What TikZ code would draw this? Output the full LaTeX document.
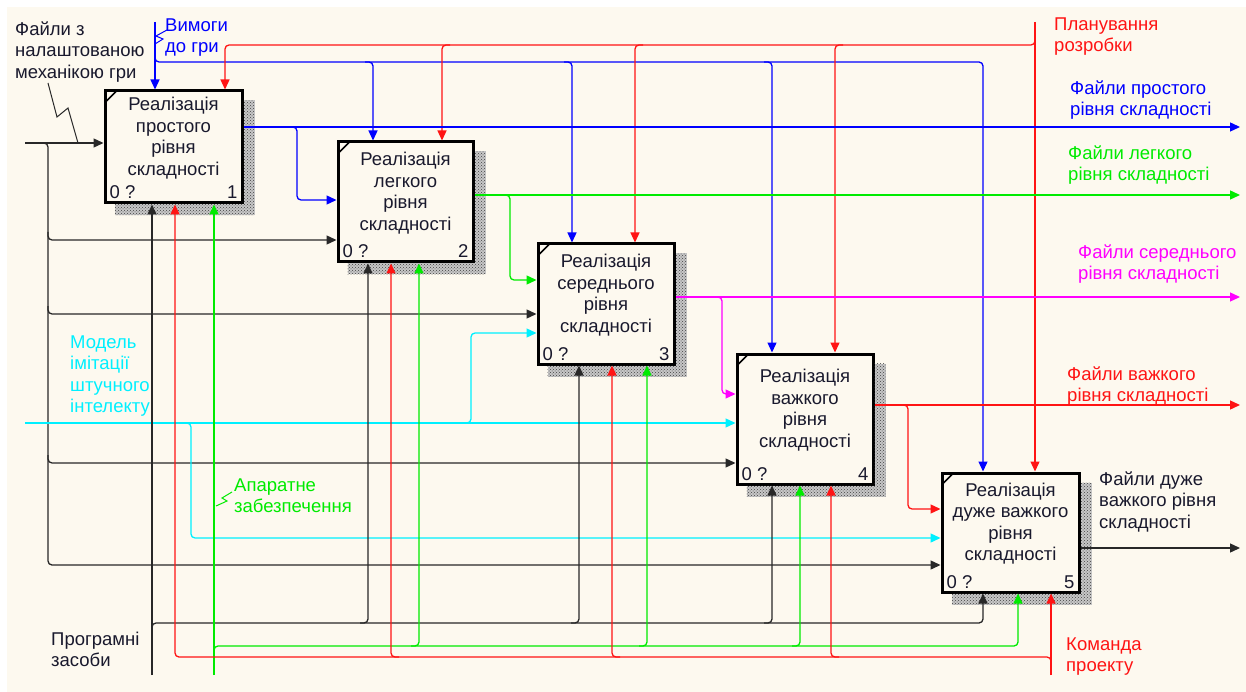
\documentclass[tikz,border=0pt]{standalone}
\usepackage{fontspec}
\setmainfont{Liberation Sans}
\usetikzlibrary{arrows.meta,calc,patterns}
\definecolor{bgc}{RGB}{253,249,239}
\definecolor{cbl}{RGB}{0,0,255}
\definecolor{crd}{RGB}{255,20,20}
\definecolor{cgr}{RGB}{0,235,0}
\definecolor{ccy}{RGB}{0,240,255}
\definecolor{cmg}{RGB}{255,0,255}
\definecolor{cbk}{RGB}{40,40,40}
\definecolor{ctx}{RGB}{25,25,45}
\newcommand\lf{\fontsize{18.5}{21.5}\selectfont}
\newcommand\fs{\rule{0pt}{14pt}}
\tikzset{
  boxnode/.style={draw=black, line width=3pt, fill=bgc, inner sep=0pt},
  boxtext/.style={font=\lf, align=center, text=ctx, inner sep=0pt},
  numtext/.style={font=\lf, text=ctx, inner sep=0pt},
  lbl/.style={font=\lf, align=left, inner sep=0pt, anchor=north west},
  shdbase/.style={fill=black!22},
  shd/.style={pattern=crosshatch dots, pattern color=black!75},
  ln/.style={line width=1.3pt, rounded corners=4pt},
  arr/.style={ln, -{Triangle[length=10pt,width=9pt]}},
  sq/.style={line width=1pt},
  bl/.style={draw=cbl}, rd/.style={draw=crd}, gr/.style={draw=cgr},
  cy/.style={draw=ccy}, mg/.style={draw=cmg}, bk/.style={draw=cbk},
}
\begin{document}
\begin{tikzpicture}[x=1pt,y=-1pt]
\useasboundingbox (0,0) rectangle (1246,692);
\fill[white] (0,0) rectangle (1246,692);
\fill[bgc] (7,7) rectangle (1246,692);

% boxes
\node[boxnode, minimum width=137pt, minimum height=112pt] (b1) at (173.5,147) {};
\node[boxnode, minimum width=135pt, minimum height=120pt] (b2) at (405.5,202) {};
\node[boxnode, minimum width=136pt, minimum height=120pt] (b3) at (606,304) {};
\node[boxnode, minimum width=136pt, minimum height=130pt] (b4) at (805,419) {};
\node[boxnode, minimum width=137pt, minimum height=119pt] (b5) at (1010.5,532.5) {};

\foreach \b in {b1,b2,b3,b4,b5}{
  \fill[shdbase] ($(\b.north east)+(0,11)$) rectangle ($(\b.south east)+(11,11)$);
  \fill[shdbase] ($(\b.south west)+(11,0)$) rectangle ($(\b.south east)+(0,11)$);
  \fill[shd] ($(\b.north east)+(0,11)$) rectangle ($(\b.south east)+(11,11)$);
  \fill[shd] ($(\b.south west)+(11,0)$) rectangle ($(\b.south east)+(0,11)$);
  \draw[line width=1.6pt] ($(\b.north west)+(1.5,13)$) -- ($(\b.north west)+(13,1.5)$);
}

\node[boxtext] (t1) at (173.5,138) {Реалізація\\простого\\рівня\\складності};
\node[boxtext] (t2) at (405.5,193) {Реалізація\\легкого\\рівня\\складності};
\node[boxtext] (t3) at (606,295) {Реалізація\\середнього\\рівня\\складності};
\node[boxtext] (t4) at (805,410) {Реалізація\\важкого\\рівня\\складності};
\node[boxtext] (t5) at (1010.5,523.5) {Реалізація\\дуже важкого\\рівня\\складності};

\foreach \b/\n in {b1/1,b2/2,b3/3,b4/4,b5/5}{
  \node[numtext, anchor=base west] (z\b) at ($(\b.south west)+(6,-5.5)$) {0 ?};
  \node[numtext, anchor=base east] (n\b) at ($(\b.south east)+(-6,-5.5)$) {\n};
}

% controls: blue
\draw[arr,bl] (155,22) -- (b1.north -| 155,0);
\draw[arr,bl] (155,52) |- (983,62) -- (b5.north -| 983,0);
\draw[arr,bl] (365,62) -| (b2.north -| 373,0);
\draw[arr,bl] (564,62) -| (b3.north -| 572,0);
\draw[arr,bl] (764,62) -| (b4.north -| 772,0);
% controls: red
\draw[arr,rd] (1035,22) -- (b5.north -| 1035,0);
\draw[arr,rd] (1035,36) |- (225,45) -- (b1.north -| 225,0);
\draw[arr,rd] (450,45) -| (b2.north -| 442,0);
\draw[arr,rd] (643,45) -| (b3.north -| 635,0);
\draw[arr,rd] (843,45) -| (b4.north -| 835,0);

% outputs
\draw[arr,bl] (b1.east |- 0,127) -- (1240,127);
\draw[arr,bl] (290,127) -| (297,200) -- (b2.west |- 0,200);
\draw[arr,gr] (b2.east |- 0,195) -- (1240,195);
\draw[arr,gr] (503,195) -| (510,280) -- (b3.west |- 0,280);
\draw[arr,mg] (b3.east |- 0,297) -- (1240,297);
\draw[arr,mg] (715,297) -| (722,394) -- (b4.west |- 0,394);
\draw[arr,rd] (b4.east |- 0,405) -- (1240,405);
\draw[arr,rd] (901,405) -| (908,509) -- (b5.west |- 0,509);
\draw[arr,bk] (b5.east |- 0,548) -- (1240,548);

% inputs: black
\draw[arr,bk] (25,143) -- (b1.west |- 0,143);
\draw[arr,bk] (42,143) -| (48,565) -- (b5.west |- 0,565);
\draw[arr,bk] (48,232) |- (b2.west |- 0,240);
\draw[arr,bk] (48,306) |- (b3.west |- 0,314);
\draw[arr,bk] (48,455) |- (b4.west |- 0,463);
% inputs: cyan
\draw[arr,cy] (25,423) -- (b4.west |- 0,423);
\draw[arr,cy] (464,423) -| (471,333) -- (b3.west |- 0,333);
\draw[arr,cy] (184,423) -| (191,538) -- (b5.west |- 0,538);

% mechanisms: black
\draw[arr,bk] (152,675) -- (b1.south -| 152,0);
\draw[arr,bk] (152,630) |- (983,623) -- (b5.south -| 983,0);
\draw[arr,bk] (360,623) -| (b2.south -| 368,0);
\draw[arr,bk] (571,623) -| (b3.south -| 579,0);
\draw[arr,bk] (764,623) -| (b4.south -| 772,0);
% mechanisms: green
\draw[arr,gr] (214,675) -- (b1.south -| 214,0);
\draw[arr,gr] (214,653) |- (1018,646) -- (b5.south -| 1018,0);
\draw[arr,gr] (411,646) -| (b2.south -| 419,0);
\draw[arr,gr] (639,646) -| (b3.south -| 647,0);
\draw[arr,gr] (792,646) -| (b4.south -| 800,0);
% mechanisms: red
\draw[arr,rd] (1051,675) -- (b5.south -| 1051,0);
\draw[arr,rd] (1051,664) |- (175,657) -- (b1.south -| 175,0);
\draw[arr,rd] (399,657) -| (b2.south -| 391,0);
\draw[arr,rd] (620,657) -| (b3.south -| 612,0);
\draw[arr,rd] (839,657) -| (b4.south -| 831,0);

% labels
\node[lbl, text=ctx] (Lin) at (15,21) {\fs Файли з\\налаштованою\\механікою гри};
\node[lbl, text=cbl] (Lreq) at (165,17) {\fs Вимоги\\до гри};
\node[lbl, text=crd] (Lplan) at (1054,16) {\fs Планування\\розробки};
\node[lbl, text=cbl] (Lo1) at (1070,80) {\fs Файли простого\\рівня складності};
\node[lbl, text=cgr] (Lo2) at (1068,145) {\fs Файли легкого\\рівня складності};
\node[lbl, text=cmg] (Lo3) at (1078,244) {\fs Файли середнього\\рівня складності};
\node[lbl, text=crd] (Lo4) at (1067,366) {\fs Файли важкого\\рівня складності};
\node[lbl, text=ctx] (Lo5) at (1099,471) {\fs Файли дуже\\важкого рівня\\складності};
\node[lbl, text=ccy] (Lai) at (70,334) {\fs Модель\\імітації\\штучного\\інтелекту};
\node[lbl, text=cgr] (Lhw) at (234,477) {\fs Апаратне\\забезпечення};
\node[lbl, text=ctx] (Lsw) at (51,631) {\fs Програмні\\засоби};
\node[lbl, text=crd] (Lteam) at (1066,636) {\fs Команда\\проекту};

% squiggles
\draw[sq,bk] (48,83) -- (57,117) -- (68,108) -- (78,143);
\draw[sq,bl] (167,30) -- (156,36) -- (163,39) -- (155,44);
\draw[sq,gr] (232,492) -- (222,498) -- (227,501) -- (216,506);
\end{tikzpicture}
\end{document}
